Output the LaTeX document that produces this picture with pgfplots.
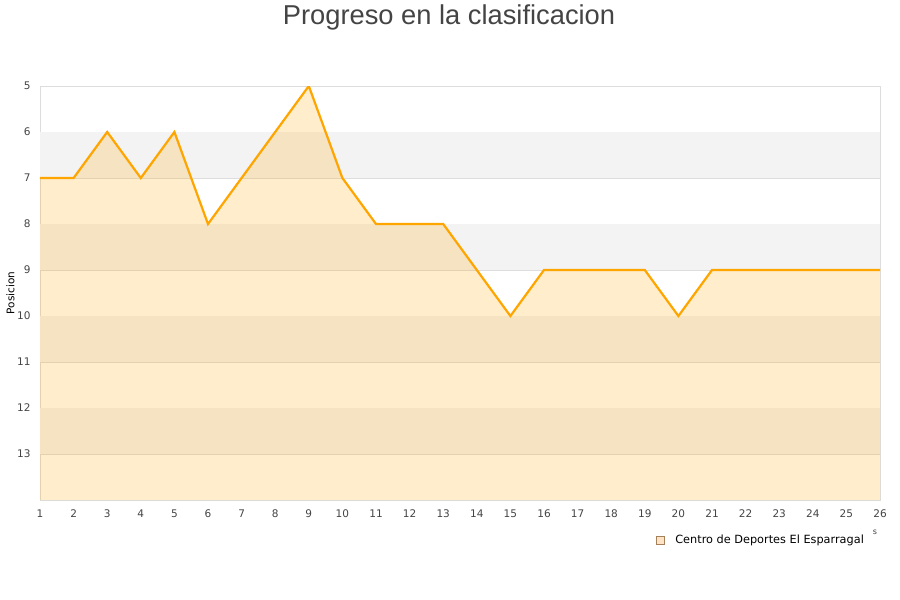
\documentclass[border=0pt]{standalone}
\usepackage{pgfplots}
\pgfplotsset{compat=1.18}
\usepackage{fontspec}
\setmainfont{DejaVu Sans}
\newfontfamily\titlefont{Liberation Sans}
\definecolor{bandgray}{HTML}{F3F3F3}
\definecolor{gridc}{HTML}{DDDDDD}
\definecolor{txt}{HTML}{444444}
\definecolor{lineor}{HTML}{FFA500}
\begin{document}
\begin{tikzpicture}
\useasboundingbox (0,0) rectangle (900bp,600bp);
\node[anchor=base, text=txt, font=\titlefont\fontsize{27.3bp}{30bp}\selectfont] at (449bp,575bp) {Progreso en la clasificacion};
\begin{axis}[
  at={(40bp,100bp)}, anchor=south west,
  scale only axis, width=840bp, height=414bp,
  xmin=1, xmax=26, ymin=5, ymax=14,
  y dir=reverse,
  xtick={1,...,26}, ytick={5,...,13},
  major tick length=0pt,
  axis line style={draw=gridc},
  ymajorgrids, grid style={draw=gridc, line width=0.6bp},
  axis on top=false,
  tick label style={font=\fontsize{10.5bp}{12bp}\selectfont, text=txt},
  /pgf/number format/assume math mode=true,
  xticklabel style={yshift=-6bp},
  yticklabel style={xshift=-6bp},
  ylabel={Posicion},
  ylabel style={font=\fontsize{10.5bp}{12bp}\selectfont, text=black, at={(axis description cs:-0.026,0.5)}},
  legend style={at={(0.987,-0.097)}, anchor=east, draw=none, fill=none,
    font=\fontsize{11.3bp}{13bp}\selectfont, legend cell align=left},
  legend image code/.code={\draw[fill=orange!22, draw=brown!60!gray, line width=0.6bp] (0bp,-4bp) rectangle (8bp,4bp);},
]
\fill[bandgray] (axis cs:1,6) rectangle (axis cs:26,7);
\fill[bandgray] (axis cs:1,8) rectangle (axis cs:26,9);
\fill[bandgray] (axis cs:1,10) rectangle (axis cs:26,11);
\fill[bandgray] (axis cs:1,12) rectangle (axis cs:26,13);
\addplot[draw=none, fill=lineor, fill opacity=0.2, forget plot] coordinates {
(1,14) (1,7) (2,7) (3,6) (4,7) (5,6) (6,8) (7,7) (8,6) (9,5) (10,7) (11,8) (12,8) (13,8)
(14,9) (15,10) (16,9) (17,9) (18,9) (19,9) (20,10) (21,9) (22,9) (23,9) (24,9) (25,9) (26,9) (26,14)
} -- cycle;
\addplot[draw=lineor, line width=2.2bp, mark=none] coordinates {
(1,7) (2,7) (3,6) (4,7) (5,6) (6,8) (7,7) (8,6) (9,5) (10,7) (11,8) (12,8) (13,8)
(14,9) (15,10) (16,9) (17,9) (18,9) (19,9) (20,10) (21,9) (22,9) (23,9) (24,9) (25,9) (26,9)
};
\addlegendentry{\hspace{8.5bp}Centro de Deportes El Esparragal}
\end{axis}
\node[font=\fontsize{8bp}{9bp}\selectfont, text=txt] at (875bp,68bp) {s};
\end{tikzpicture}
\end{document}
